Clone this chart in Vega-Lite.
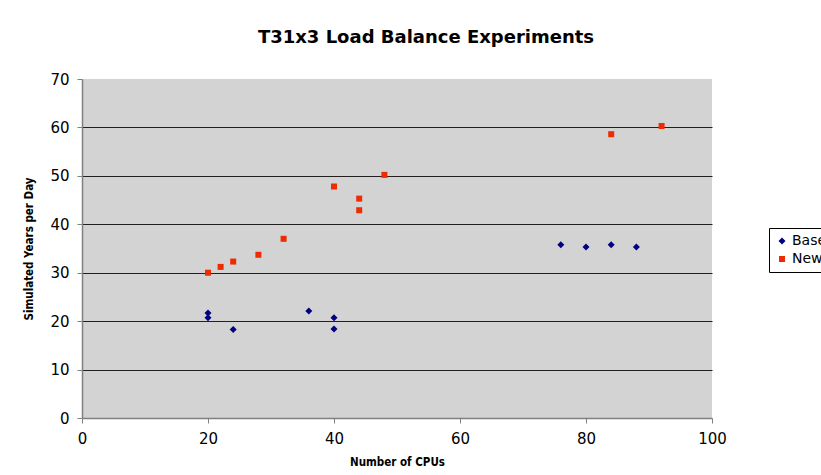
{
  "$schema": "https://vega.github.io/schema/vega-lite/v6.json",
  "width": 630,
  "height": 339,
  "autosize": {"type": "none"},
  "padding": {"left": 82, "top": 79, "right": 109, "bottom": 57},
  "background": "white",
  "title": {
    "text": "T31x3 Load Balance Experiments",
    "font": "DejaVu Sans",
    "fontSize": 18,
    "fontWeight": "bold",
    "color": "#000000",
    "anchor": "middle",
    "dx": 29,
    "offset": 25
  },
  "data": {
    "values": [
      {"cpus": 20, "syd": 21.7, "series": "Base"},
      {"cpus": 20, "syd": 20.7, "series": "Base"},
      {"cpus": 24, "syd": 18.3, "series": "Base"},
      {"cpus": 36, "syd": 22.1, "series": "Base"},
      {"cpus": 40, "syd": 20.7, "series": "Base"},
      {"cpus": 40, "syd": 18.4, "series": "Base"},
      {"cpus": 76, "syd": 35.8, "series": "Base"},
      {"cpus": 80, "syd": 35.3, "series": "Base"},
      {"cpus": 84, "syd": 35.8, "series": "Base"},
      {"cpus": 88, "syd": 35.3, "series": "Base"},
      {"cpus": 20, "syd": 30.0, "series": "New"},
      {"cpus": 22, "syd": 31.2, "series": "New"},
      {"cpus": 24, "syd": 32.3, "series": "New"},
      {"cpus": 28, "syd": 33.7, "series": "New"},
      {"cpus": 32, "syd": 37.0, "series": "New"},
      {"cpus": 40, "syd": 47.8, "series": "New"},
      {"cpus": 44, "syd": 45.3, "series": "New"},
      {"cpus": 44, "syd": 42.9, "series": "New"},
      {"cpus": 48, "syd": 50.2, "series": "New"},
      {"cpus": 84, "syd": 58.6, "series": "New"},
      {"cpus": 92, "syd": 60.3, "series": "New"}
    ]
  },
  "mark": {"type": "point", "filled": true, "opacity": 1},
  "encoding": {
    "x": {
      "field": "cpus",
      "type": "quantitative",
      "scale": {"domain": [0, 100], "nice": false},
      "axis": {
        "title": "Number of CPUs",
        "values": [0, 20, 40, 60, 80, 100],
        "grid": false,
        "domainColor": "#808080",
        "tickColor": "#808080",
        "tickSize": 5,
        "labelFont": "DejaVu Sans",
        "labelFontSize": 15,
        "labelColor": "#000000",
        "labelPadding": 8,
        "labelFlush": false,
        "titleFont": "DejaVu Sans Condensed",
        "titleFontSize": 11.5,
        "titleFontWeight": "bold",
        "titleColor": "#000000",
        "titlePadding": 10
      }
    },
    "y": {
      "field": "syd",
      "type": "quantitative",
      "scale": {"domain": [0, 70], "nice": false},
      "axis": {
        "title": "Simulated Years per Day",
        "values": [0, 10, 20, 30, 40, 50, 60, 70],
        "grid": true,
        "gridColor": "#231f20",
        "gridOpacity": {"condition": {"test": "datum.value == 70 || datum.value == 0", "value": 0}, "value": 1},
        "domainColor": "#808080",
        "tickColor": "#808080",
        "tickSize": 5,
        "labelFont": "DejaVu Sans",
        "labelFontSize": 15,
        "labelColor": "#000000",
        "labelPadding": 8,
        "labelFlush": false,
        "titleFont": "DejaVu Sans Condensed",
        "titleFontSize": 11.5,
        "titleFontWeight": "bold",
        "titleColor": "#000000",
        "titlePadding": 15
      }
    },
    "color": {
      "field": "series",
      "type": "nominal",
      "scale": {"domain": ["Base", "New"], "range": ["#000080", "#ee2a00"]},
      "legend": {
        "title": null,
        "orient": "none",
        "legendX": 687,
        "legendY": 149,
        "strokeColor": "#000000",
        "fillColor": "#ffffff",
        "padding": 6,
        "labelFont": "DejaVu Sans",
        "labelFontSize": 14,
        "labelColor": "#000000",
        "symbolSize": 36,
        "rowPadding": 4,
        "labelOffset": 3
      }
    },
    "shape": {
      "field": "series",
      "type": "nominal",
      "scale": {"domain": ["Base", "New"], "range": ["diamond", "square"]}
    },
    "size": {
      "field": "series",
      "type": "nominal",
      "scale": {"domain": ["Base", "New"], "range": [49, 36]},
      "legend": null
    }
  },
  "config": {
    "view": {"fill": "#d3d3d3", "stroke": null},
    "axis": {"domainWidth": 1.5}
  }
}
